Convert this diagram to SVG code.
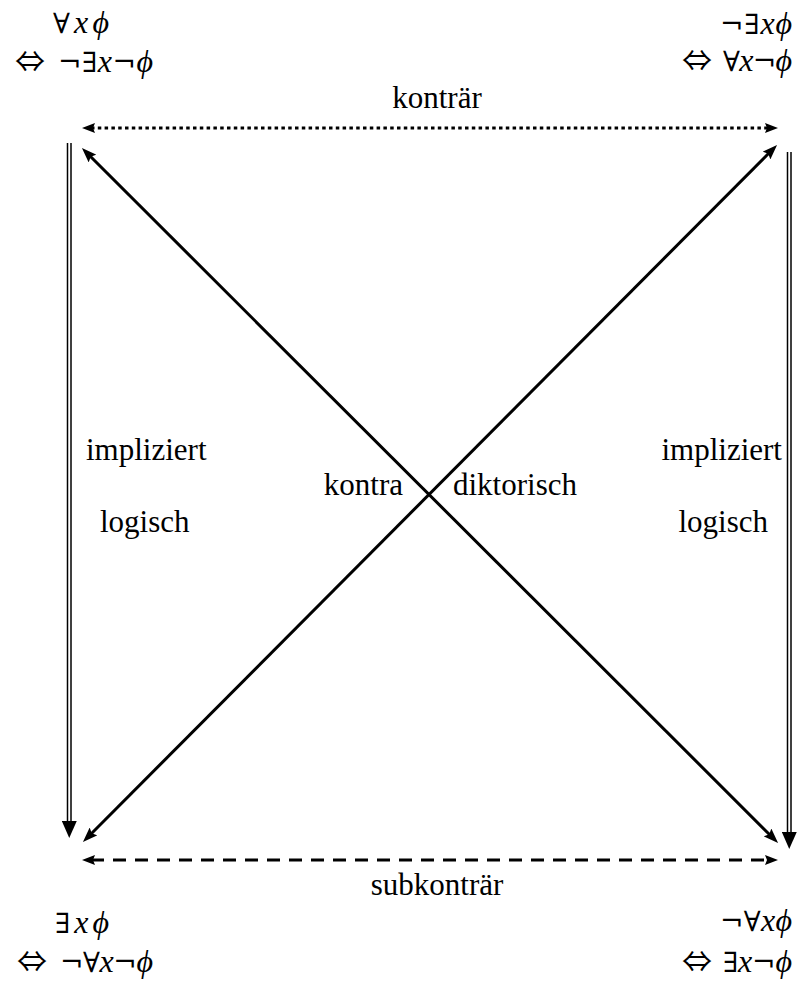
<svg xmlns="http://www.w3.org/2000/svg" width="803" height="983" viewBox="0 0 803 983">
<style>
.t{font-family:"Liberation Serif","Times New Roman",serif;font-size:31px;fill:#000}
.m{font-family:"Liberation Serif","DejaVu Serif",serif;font-size:32px;fill:#000}
.s{font-family:"DejaVu Serif",serif;font-size:28px}
.r{font-family:"Noto Sans CJK JP","DejaVu Sans",sans-serif;font-size:30px;fill:#000}
.i{font-style:italic}
.ln{stroke:#000;fill:none}
</style>
<defs>
<marker id="ah" markerUnits="userSpaceOnUse" viewBox="0 0 15 11" markerWidth="15" markerHeight="11" refX="5" refY="5.5" orient="auto-start-reverse">
<path d="M0,0 L15,5.5 L0,11 L2.5,5.5 z" fill="#000"/>
</marker>
<marker id="hh" markerUnits="userSpaceOnUse" viewBox="0 0 13 10" markerWidth="13" markerHeight="10" refX="4" refY="5" orient="auto-start-reverse">
<path d="M0,0 L13,5 L0,10 L2,5 z" fill="#000"/>
</marker>
<marker id="vh" markerUnits="userSpaceOnUse" viewBox="0 0 17 15" markerWidth="17" markerHeight="15" refX="2" refY="7.5" orient="auto">
<path d="M0,0 L17,7.5 L0,15 z" fill="#000"/>
</marker>
</defs>

<g id="connectors">
<line id="contrary" class="ln" x1="91" y1="128" x2="769" y2="128" stroke-width="3" stroke-dasharray="3.5 3.3" marker-start="url(#hh)" marker-end="url(#hh)"/>
<line id="subcontrary" class="ln" x1="91" y1="860" x2="769" y2="860" stroke-width="3" stroke-dasharray="13 9" marker-start="url(#hh)" marker-end="url(#hh)"/>
<line id="diag1" class="ln" x1="89" y1="155" x2="771" y2="836" stroke-width="3" marker-start="url(#ah)" marker-end="url(#ah)"/>
<line id="diag2" class="ln" x1="90" y1="835" x2="770" y2="152" stroke-width="3" marker-start="url(#ah)" marker-end="url(#ah)"/>
<g id="imp-left">
<line class="ln" x1="67.5" y1="143" x2="67.5" y2="826" stroke-width="1.5"/>
<line class="ln" x1="71" y1="143" x2="71" y2="826" stroke-width="1.5"/>
<line class="ln" x1="69.25" y1="820" x2="69.25" y2="823" stroke-width="0.1" marker-end="url(#vh)"/>
</g>
<g id="imp-right">
<line class="ln" x1="787.5" y1="152" x2="787.5" y2="836" stroke-width="1.5"/>
<line class="ln" x1="791" y1="152" x2="791" y2="836" stroke-width="1.5"/>
<line class="ln" x1="789.25" y1="830" x2="789.25" y2="834" stroke-width="0.1" marker-end="url(#vh)"/>
</g>
</g>

<g id="labels">
<text class="t" x="437" y="108" text-anchor="middle">konträr</text>
<text class="t" x="437" y="895" text-anchor="middle">subkonträr</text>
<text class="t" x="86" y="460">impliziert</text>
<text class="t" x="100" y="532">logisch</text>
<text class="t" x="782" y="460" text-anchor="end">impliziert</text>
<text class="t" x="768" y="532" text-anchor="end">logisch</text>
<text class="t" x="403" y="495" text-anchor="end">kontra</text>
<text class="t" x="453" y="495">diktorisch</text>
</g>

<g id="node-A">
<text class="m" x="53" y="33" textLength="56" lengthAdjust="spacing"><tspan class="s">∀</tspan><tspan class="i">x</tspan><tspan class="i">ϕ</tspan></text>
<text class="r" x="15" y="72">⇔</text>
<text class="m" x="58" y="72" textLength="95" lengthAdjust="spacing"><tspan class="s">¬∃</tspan><tspan class="i">x</tspan><tspan class="s">¬</tspan><tspan class="i">ϕ</tspan></text>
</g>
<g id="node-E">
<text class="m" x="720" y="34" textLength="72" lengthAdjust="spacing"><tspan class="s">¬∃</tspan><tspan class="i">x</tspan><tspan class="i">ϕ</tspan></text>
<text class="r" x="682" y="71">⇔</text>
<text class="m" x="723" y="71" textLength="69" lengthAdjust="spacing"><tspan class="s">∀</tspan><tspan class="i">x</tspan><tspan class="s">¬</tspan><tspan class="i">ϕ</tspan></text>
</g>
<g id="node-I">
<text class="m" x="55" y="933" textLength="54" lengthAdjust="spacing"><tspan class="s">∃</tspan><tspan class="i">x</tspan><tspan class="i">ϕ</tspan></text>
<text class="r" x="17" y="972">⇔</text>
<text class="m" x="60" y="972" textLength="93" lengthAdjust="spacing"><tspan class="s">¬∀</tspan><tspan class="i">x</tspan><tspan class="s">¬</tspan><tspan class="i">ϕ</tspan></text>
</g>
<g id="node-O">
<text class="m" x="720" y="931" textLength="72" lengthAdjust="spacing"><tspan class="s">¬∀</tspan><tspan class="i">x</tspan><tspan class="i">ϕ</tspan></text>
<text class="r" x="682" y="972">⇔</text>
<text class="m" x="723" y="972" textLength="69" lengthAdjust="spacing"><tspan class="s">∃</tspan><tspan class="i">x</tspan><tspan class="s">¬</tspan><tspan class="i">ϕ</tspan></text>
</g>
</svg>
